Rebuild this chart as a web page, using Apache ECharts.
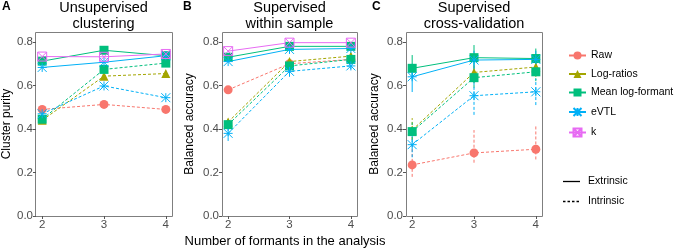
<!DOCTYPE html>
<html>
<head>
<meta charset="utf-8">
<script src="https://cdn.jsdelivr.net/npm/echarts@6/dist/echarts.min.js"></script>
<style>
  html, body { margin: 0; padding: 0; background: #fff; }
  #main { width: 676px; height: 249px; }
</style>
</head>
<body>
<div id="main"></div>
<script>
// x values: number of formants
var formants = [2, 3, 4];
var methods = ['Raw', 'Log-ratios', 'Mean log-formant', 'eVTL', 'k'];
var lineTypes = ['Extrinsic', 'Intrinsic'];
var yTicks = [0, 0.2, 0.4, 0.6, 0.8];

// panel A - unsupervised clustering (cluster purity)
var aRawInt = [0.49, 0.513, 0.49];
var aLogInt = [0.44, 0.643, 0.655];
var aMeanInt = [0.445, 0.674, 0.703];
var aVtlInt = [0.47, 0.598, 0.544];
var aMeanExt = [0.712, 0.762, 0.737];
var aVtlExt = [0.683, 0.707, 0.737];
var aKExt = [0.733, 0.732, 0.745];

// panel B - supervised within sample
var bRawInt = [0.58, 0.70, 0.72];
var bLogInt = [0.432, 0.71, 0.735];
var bMeanInt = [0.42, 0.69, 0.72];
var bVtlInt = [0.38, 0.665, 0.69];
var bMeanExt = [0.73, 0.78, 0.78];
var bVtlExt = [0.71, 0.766, 0.77];
var bKExt = [0.758, 0.797, 0.797];
var bVtlIntErr = [[0.345, 0.415], [0.64, 0.69], [0.675, 0.705]];
var bLogIntErr = [[0.41, 0.45], [0.69, 0.73], [0.715, 0.75]];

// panel C - supervised cross-validation
var cRawInt = [0.235, 0.29, 0.307];
var cLogInt = [0.395, 0.66, 0.685];
var cMeanInt = [0.388, 0.636, 0.663];
var cVtlInt = [0.328, 0.553, 0.571];
var cMeanExt = [0.679, 0.728, 0.724];
var cVtlExt = [0.64, 0.717, 0.72];
var cRawIntErr = [[0.18, 0.335], [0.245, 0.395], [0.26, 0.418]];
var cLogIntErr = [[0.35, 0.45], [0.61, 0.70], [0.64, 0.72]];
var cMeanIntErr = [[0.35, 0.43], [0.59, 0.68], [0.62, 0.71]];
var cVtlIntErr = [[0.27, 0.40], [0.465, 0.62], [0.51, 0.63]];
var cMeanExtErr = [[0.625, 0.74], [0.675, 0.786], [0.68, 0.77]];
var cVtlExtErr = [[0.57, 0.70], [0.67, 0.76], [0.68, 0.76]];

var colors = {
  'Raw': '#F8766D',
  'Log-ratios': '#A3A500',
  'Mean log-formant': '#00BF7D',
  'eVTL': '#00B0F6',
  'k': '#E76BF3'
};
var symbols = {
  'Raw': 'circle',
  'Log-ratios': 'triangle',
  'Mean log-formant': 'rect',
  'eVTL': 'path://M0,0L10,10M10,0L0,10M5,0L5,10M0,5L10,5',
  'k': 'path://M0,0L10,0L10,10L0,10ZM0,0L10,10M10,0L0,10'
};
var hollow = { 'eVTL': true, 'k': true };
var DASH = [3, 2];
var FONT = 'Liberation Sans';

function line(name, vals, panel, dashed) {
  var c = colors[name];
  return {
    type: 'line',
    name: name,
    xAxisIndex: panel,
    yAxisIndex: panel,
    data: formants.map(function (f, i) { return [f, vals[i]]; }),
    symbol: symbols[name],
    symbolSize: 9,
    lineStyle: { color: c, width: 1, type: dashed ? DASH : 'solid' },
    itemStyle: hollow[name]
      ? { color: 'none', borderColor: c, borderWidth: 1 }
      : { color: c, borderWidth: 0 },
    z: dashed ? 3 : 4
  };
}

function errbar(name, errs, panel, dashed) {
  var c = colors[name];
  return {
    type: 'custom',
    name: name + ' err',
    xAxisIndex: panel,
    yAxisIndex: panel,
    data: formants.map(function (f, i) { return [f, errs[i][0], errs[i][1]]; }),
    renderItem: function (params, api) {
      var p1 = api.coord([api.value(0), api.value(1)]);
      var p2 = api.coord([api.value(0), api.value(2)]);
      return {
        type: 'line',
        shape: { x1: p1[0], y1: p1[1], x2: p2[0], y2: p2[1] },
        style: { stroke: c, lineWidth: 1, lineDash: dashed ? DASH : null }
      };
    },
    z: 2
  };
}

var grids = [
  { left: 35, top: 32, width: 137, height: 184 },
  { left: 222, top: 32, width: 135, height: 184 },
  { left: 406, top: 32, width: 136, height: 184 }
];
var yNames = ['Cluster purity', 'Balanced accuracy', 'Balanced accuracy'];
var yGaps = [23, 26, 25];

var xAxes = grids.map(function (g, i) {
  return {
    type: 'value', gridIndex: i, min: 1.9, max: 4.1,
    axisLine: { show: false },
    splitLine: { show: false },
    axisTick: { show: true, length: 3, customValues: formants, lineStyle: { color: '#555' } },
    axisLabel: { customValues: formants, color: '#4d4d4d', fontSize: 11.5, fontFamily: FONT, margin: 3 }
  };
});
var yAxes = grids.map(function (g, i) {
  return {
    type: 'value', gridIndex: i, min: 0, max: 0.846,
    name: yNames[i], nameLocation: 'middle', nameGap: yGaps[i],
    nameTextStyle: { color: '#000', fontSize: 12, fontFamily: FONT },
    axisLine: { show: false },
    splitLine: { show: false },
    axisTick: { show: true, length: 3, customValues: yTicks, lineStyle: { color: '#555' } },
    axisLabel: {
      customValues: yTicks, color: '#4d4d4d', fontSize: 11.5, fontFamily: FONT, margin: 3,
      formatter: function (v) { return v.toFixed(1); }
    }
  };
});

var series = [
  // A
  line('Raw', aRawInt, 0, true),
  line('Log-ratios', aLogInt, 0, true),
  line('Mean log-formant', aMeanInt, 0, true),
  line('eVTL', aVtlInt, 0, true),
  line('Mean log-formant', aMeanExt, 0, false),
  line('eVTL', aVtlExt, 0, false),
  line('k', aKExt, 0, false),
  // B
  errbar('eVTL', bVtlIntErr, 1, true),
  errbar('Log-ratios', bLogIntErr, 1, true),
  line('Raw', bRawInt, 1, true),
  line('Log-ratios', bLogInt, 1, true),
  line('Mean log-formant', bMeanInt, 1, true),
  line('eVTL', bVtlInt, 1, true),
  line('Mean log-formant', bMeanExt, 1, false),
  line('eVTL', bVtlExt, 1, false),
  line('k', bKExt, 1, false),
  // C
  errbar('Raw', cRawIntErr, 2, true),
  errbar('Log-ratios', cLogIntErr, 2, true),
  errbar('Mean log-formant', cMeanIntErr, 2, true),
  errbar('eVTL', cVtlIntErr, 2, true),
  errbar('Mean log-formant', cMeanExtErr, 2, false),
  errbar('eVTL', cVtlExtErr, 2, false),
  line('Raw', cRawInt, 2, true),
  line('Log-ratios', cLogInt, 2, true),
  line('Mean log-formant', cMeanInt, 2, true),
  line('eVTL', cVtlInt, 2, true),
  line('Mean log-formant', cMeanExt, 2, false),
  line('eVTL', cVtlExt, 2, false)
];

var titles = [
  ['Unsupervised', 'clustering', 103.5],
  ['Supervised', 'within sample', 289.5],
  ['Supervised', 'cross-validation', 474]
];
var graphic = [];
titles.forEach(function (t) {
  graphic.push({
    type: 'text', x: t[2], y: 0,
    style: { text: t[0] + '\n' + t[1], textAlign: 'center', textVerticalAlign: 'top',
      font: '14.5px "' + FONT + '"', lineHeight: 16, fill: '#000' }
  });
});
[['A', 2], ['B', 183], ['C', 372]].forEach(function (l) {
  graphic.push({
    type: 'text', x: l[1], y: 1,
    style: { text: l[0], font: 'bold 12px "' + FONT + '"', fill: '#000' }
  });
});
graphic.push({
  type: 'text', x: 285, y: 235,
  style: { text: 'Number of formants in the analysis', textAlign: 'center',
    font: '13px "' + FONT + '"', fill: '#000' }
});
// panel borders
grids.forEach(function (g) {
  graphic.push({
    type: 'rect', shape: { x: g.left + 0.5, y: g.top + 0.5, width: g.width, height: g.height },
    style: { fill: 'none', stroke: '#7f7f7f', lineWidth: 1 }, silent: true, z: 0
  });
});
// linetype legend
lineTypes.forEach(function (name, i) {
  var y = 181.5 + i * 20;
  graphic.push({
    type: 'line', shape: { x1: 563, y1: y, x2: 580, y2: y },
    style: { stroke: '#000', lineWidth: 1.3, lineDash: i === 1 ? [2.5, 2] : null }
  });
  graphic.push({
    type: 'text', x: 588, y: y,
    style: { text: name, textVerticalAlign: 'middle', font: '10.5px "' + FONT + '"', fill: '#000' }
  });
});

var chart = echarts.init(document.getElementById('main'), null, { renderer: 'canvas' });
chart.setOption({
  animation: false,
  textStyle: { fontFamily: FONT },
  grid: grids,
  xAxis: xAxes,
  yAxis: yAxes,
  legend: {
    data: methods, orient: 'vertical', left: 563, top: 45,
    itemWidth: 17, itemHeight: 10, itemGap: 7.5,
    lineStyle: { type: 'solid' },
    textStyle: { fontSize: 10.5, color: '#000', fontFamily: FONT }
  },
  graphic: graphic,
  series: series
});
</script>
</body>
</html>
